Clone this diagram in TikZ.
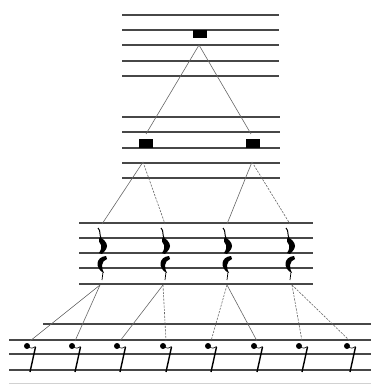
\documentclass[tikz,border=0pt]{standalone}
\begin{document}
\begin{tikzpicture}[x=1pt,y=-1pt,
  staffline/.style={draw=black!72, line width=1.3pt},
  faintline/.style={draw=black!18, line width=1pt},
  conn/.style={draw=black!60, line width=0.6pt},
  connd/.style={conn, dash pattern=on 2.2pt off 1.2pt},
  breve/.style={fill=black, inner sep=0pt, minimum width=14pt, minimum height=8.5pt},
  qrest/.pic={
    \draw[line width=1pt] (-4,0) .. controls (-1,3) and (-3,6) .. (-1,10);
    \fill (-2,9) .. controls (1,11) and (5,14) .. (5,18) .. controls (5,21) and (2,24) .. (0,26)
          -- (-3,25) .. controls (-1,22) and (0,19) .. (-1,17) .. controls (-2,15) and (-4,13) .. (-3,11) -- cycle;
    \fill (4,28) .. controls (-7,29) and (-7,41) .. (2,45) .. controls (-1,40) and (-1,33) .. (5,31) -- cycle;
    \draw[line width=0.7pt] (1,44) -- (0,52);
  },
  erest/.pic={
    \fill (0,0) circle (3pt);
    \draw[line width=0.6pt] (2,1.5) .. controls (5,2.5) .. (8.5,0.5);
    \draw[line width=1.4pt] (8.5,1) -- (3,26);
  }]
\useasboundingbox (0,0) rectangle (373,385);
% staff 1
\foreach \y in {15,30,45,61,76} \draw[staffline] (122,\y) -- (279,\y);
% staff 2
\foreach \y in {117,132,148,163,178} \draw[staffline] (122,\y) -- (280,\y);
% staff 3
\foreach \y in {223,238,253,268,284} \draw[staffline] (79,\y) -- (313,\y);
% staff 4
\draw[staffline] (43,324) -- (371,324);
\foreach \y in {340,354,370} \draw[staffline] (9,\y) -- (371,\y);
\draw[faintline] (9,383) -- (371,383);
% breves
\node[breve] (br0) at (200,34) {};
\node[breve] (br1) at (145.5,143.5) {};
\node[breve] (br2) at (253,143.5) {};
% quarter rests
\foreach \x/\n in {102/1,165/2,227/3,290/4} {
  \pic at (\x,228) {qrest};
  \coordinate (qt\n) at (\x,224);
}
% eighth rests
\foreach \x/\n in {27/1,72/2,117/3,163/4,208/5,254/6,299/7,347/8} {
  \pic at (\x,346) {erest};
  \coordinate (et\n) at (\x+3,341);
}
% connector points
\coordinate (a0) at (199,45);
\coordinate (b1) at (146,134);
\coordinate (b2) at (251,134);
\coordinate (c1) at (143,162);
\coordinate (c2) at (252,162);
\coordinate (d1) at (100,285);
\coordinate (d2) at (163,285);
\coordinate (d3) at (227,285);
\coordinate (d4) at (292,285);
% connectors
\draw[conn] (a0) -- (b1);
\draw[conn] (a0) -- (b2);
\draw[conn] (c1) -- (qt1);
\draw[connd] (c1) -- (qt2);
\draw[conn] (c2) -- (qt3);
\draw[connd] (c2) -- (qt4);
\draw[conn] (d1) -- (et1);
\draw[conn] (d1) -- (et2);
\draw[conn] (d2) -- (et3);
\draw[connd] (d2) -- (et4);
\draw[connd] (d3) -- (et5);
\draw[conn] (d3) -- (et6);
\draw[connd] (d4) -- (et7);
\draw[connd] (d4) -- (et8);
\end{tikzpicture}
\end{document}
